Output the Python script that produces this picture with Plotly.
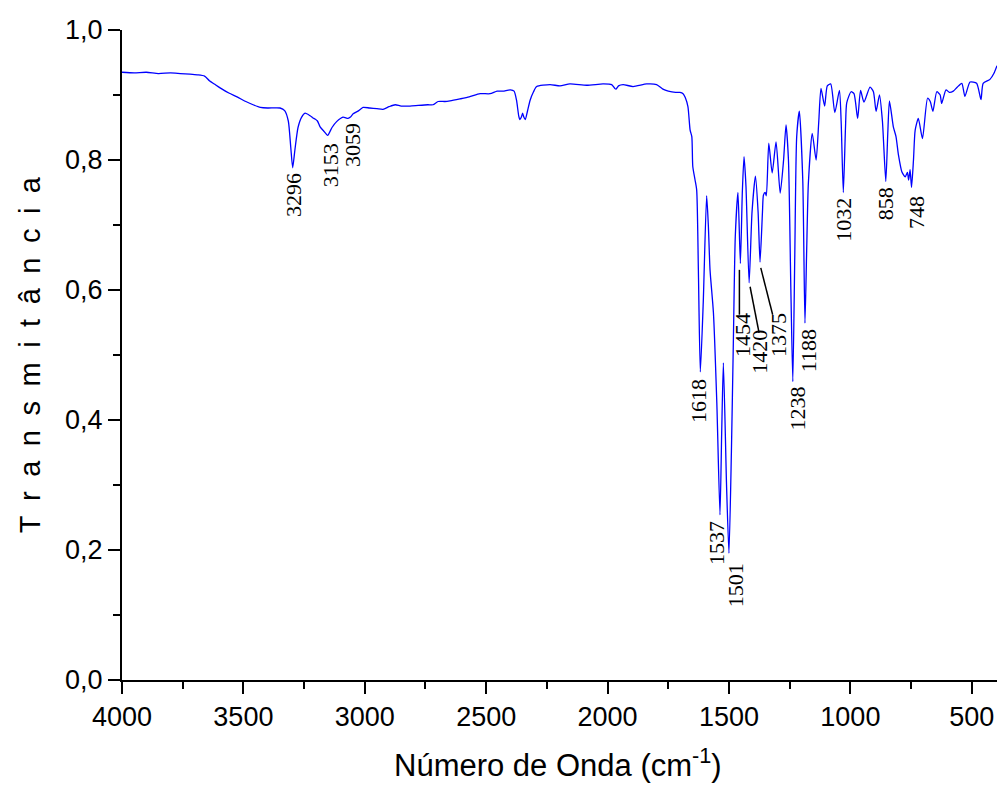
import plotly.graph_objects as go

# Espectro FTIR
numero_onda = [
    4000, 3950, 3900, 3850, 3800, 3760, 3720, 3690, 3660, 3640, 3620, 3596, 3560, 3526,
    3490, 3460, 3430, 3400, 3349, 3330, 3315, 3305, 3297, 3288, 3275, 3260, 3246, 3225,
    3215, 3205, 3195, 3184, 3170, 3153, 3135, 3116, 3090, 3069, 3059, 3048, 3025, 3007,
    2980, 2950, 2925, 2900, 2875, 2850, 2814, 2780, 2740, 2719, 2698, 2670, 2649, 2608,
    2570, 2525, 2484, 2455, 2431, 2400, 2385, 2375, 2366, 2361, 2355, 2350, 2345, 2339,
    2330, 2319, 2305, 2292, 2237, 2196, 2155, 2086, 2019, 1983, 1970, 1965, 1955, 1936,
    1895, 1839, 1798, 1772, 1750, 1720, 1702, 1689, 1680, 1669, 1660, 1653, 1649, 1640,
    1633, 1626, 1618, 1606, 1592, 1585, 1578, 1564, 1550, 1537, 1530, 1523, 1510, 1500,
    1490, 1482, 1474, 1463, 1453, 1445, 1438, 1430, 1417, 1405, 1391, 1380, 1372, 1362,
    1358, 1351, 1346, 1336, 1322, 1306, 1289, 1275, 1265, 1255, 1245, 1237, 1229, 1221,
    1210, 1196, 1187, 1180, 1173, 1157, 1141, 1130, 1121, 1106, 1095, 1081, 1064, 1045,
    1038, 1029, 1020, 1015, 997, 985, 970, 958, 944, 919, 905, 894, 880, 868,
    854, 846, 839, 823, 812, 802, 788, 774, 765, 760, 754, 748, 740, 733,
    720, 703, 682, 671, 660, 644, 630, 624, 606, 592, 576, 560, 541, 528,
    507, 480, 462, 453, 425, 409, 396,
]
transmitancia = [
    0.935, 0.934, 0.935, 0.933, 0.934, 0.933, 0.932, 0.931, 0.929, 0.922, 0.917, 0.911, 0.903, 0.897,
    0.890, 0.885, 0.881, 0.880, 0.880, 0.876, 0.860, 0.820, 0.788, 0.815, 0.850, 0.866, 0.872, 0.868,
    0.865, 0.863, 0.860, 0.851, 0.845, 0.838, 0.850, 0.859, 0.866, 0.864, 0.866, 0.871, 0.876, 0.881,
    0.880, 0.879, 0.878, 0.882, 0.885, 0.883, 0.883, 0.884, 0.885, 0.885, 0.890, 0.890, 0.891, 0.894,
    0.897, 0.902, 0.902, 0.906, 0.906, 0.908, 0.906, 0.892, 0.868, 0.862, 0.866, 0.872, 0.866, 0.862,
    0.875, 0.892, 0.905, 0.913, 0.916, 0.914, 0.917, 0.915, 0.917, 0.916, 0.910, 0.909, 0.914, 0.916,
    0.913, 0.917, 0.916, 0.909, 0.906, 0.904, 0.904, 0.902, 0.896, 0.882, 0.846, 0.836, 0.790, 0.770,
    0.754, 0.631, 0.474, 0.580, 0.745, 0.700, 0.631, 0.565, 0.426, 0.254, 0.380, 0.488, 0.300, 0.195,
    0.350, 0.518, 0.682, 0.750, 0.641, 0.750, 0.805, 0.760, 0.611, 0.720, 0.775, 0.720, 0.643, 0.720,
    0.746, 0.750, 0.745, 0.826, 0.780, 0.828, 0.749, 0.800, 0.854, 0.800, 0.600, 0.459, 0.650, 0.836,
    0.875, 0.769, 0.549, 0.660, 0.764, 0.841, 0.800, 0.860, 0.910, 0.883, 0.914, 0.917, 0.873, 0.907,
    0.860, 0.750, 0.850, 0.888, 0.905, 0.902, 0.864, 0.907, 0.889, 0.912, 0.905, 0.875, 0.900, 0.860,
    0.767, 0.840, 0.891, 0.851, 0.836, 0.808, 0.782, 0.774, 0.781, 0.769, 0.785, 0.758, 0.800, 0.846,
    0.864, 0.833, 0.895, 0.890, 0.875, 0.905, 0.900, 0.887, 0.908, 0.904, 0.906, 0.912, 0.918, 0.898,
    0.920, 0.918, 0.893, 0.918, 0.924, 0.933, 0.945,
]

# rótulos dos picos e onde o texto fica (centro)
picos = ["3296", "3153", "3059", "1618", "1537", "1501", "1454", "1420", "1375",
         "1238", "1188", "1032", "858", "748"]
picos_x = [3296, 3143, 3053, 1628, 1549, 1475, 1442, 1372, 1293, 1219, 1174, 1026, 857, 730]
picos_y = [0.746, 0.792, 0.823, 0.429, 0.211, 0.146, 0.531, 0.505, 0.531, 0.418, 0.506,
           0.708, 0.732, 0.720]

# linhas de chamada (x0, y0, x1, y1)
chamadas = [
    (1457, 0.631, 1457, 0.562),
    (1413, 0.605, 1376, 0.534),
    (1369, 0.634, 1320, 0.562),
]

fig = go.Figure()
fig.add_trace(go.Scatter(
    x=numero_onda, y=transmitancia, mode="lines",
    line=dict(color="#0000FF", width=1.3, shape="spline", smoothing=0.6),
    showlegend=False, hoverinfo="skip",
))

for txt, px, py in zip(picos, picos_x, picos_y):
    fig.add_annotation(x=px, y=py, text=txt, showarrow=False, textangle=-90,
                       xanchor="center", yanchor="middle",
                       font=dict(family="Liberation Serif", size=22, color="black"))

for x0, y0, x1, y1 in chamadas:
    fig.add_shape(type="line", x0=x0, y0=y0, x1=x1, y1=y1,
                  line=dict(color="black", width=1.5))

# títulos dos eixos como anotações (posição mais fácil de controlar)
fig.add_annotation(xref="paper", yref="paper", x=0.498, y=-0.128,
                   xanchor="center", yanchor="middle",
                   text="Número de Onda (cm<sup>-1</sup>)", showarrow=False,
                   font=dict(family="Liberation Sans", size=31, color="black"))
fig.add_annotation(xref="paper", yref="paper", x=-0.105, y=0.5, textangle=-90,
                   xanchor="center", yanchor="middle",
                   text="\u2002".join("Transmitância"), showarrow=False,
                   font=dict(family="Liberation Sans", size=29, color="black"))

eixo = dict(showline=True, linecolor="black", linewidth=2, showgrid=False,
            zeroline=False, ticks="outside", tickcolor="black", tickwidth=2,
            ticklen=12, mirror=False, automargin=False,
            tickfont=dict(family="Liberation Sans", size=27, color="black"))

fig.update_layout(
    width=1000, height=793,
    margin=dict(l=122, r=3, t=30, b=113),
    plot_bgcolor="white", paper_bgcolor="white",
    separators=",.",
    xaxis=dict(range=[4000, 396], tick0=0, dtick=500, tickformat="d",
               minor=dict(ticks="outside", dtick=250, ticklen=7, tickwidth=2,
                          tickcolor="black"), **eixo),
    yaxis=dict(range=[0, 1], dtick=0.2, tickformat=".1f",
               minor=dict(ticks="outside", dtick=0.1, ticklen=7, tickwidth=2,
                          tickcolor="black"), **eixo),
)

# tira a margem padrão do body para a figura ocupar a janela inteira
fig.write_html("out.html", config={"displayModeBar": False},
               post_script="document.body.style.margin='0';document.body.style.overflow='hidden';")
